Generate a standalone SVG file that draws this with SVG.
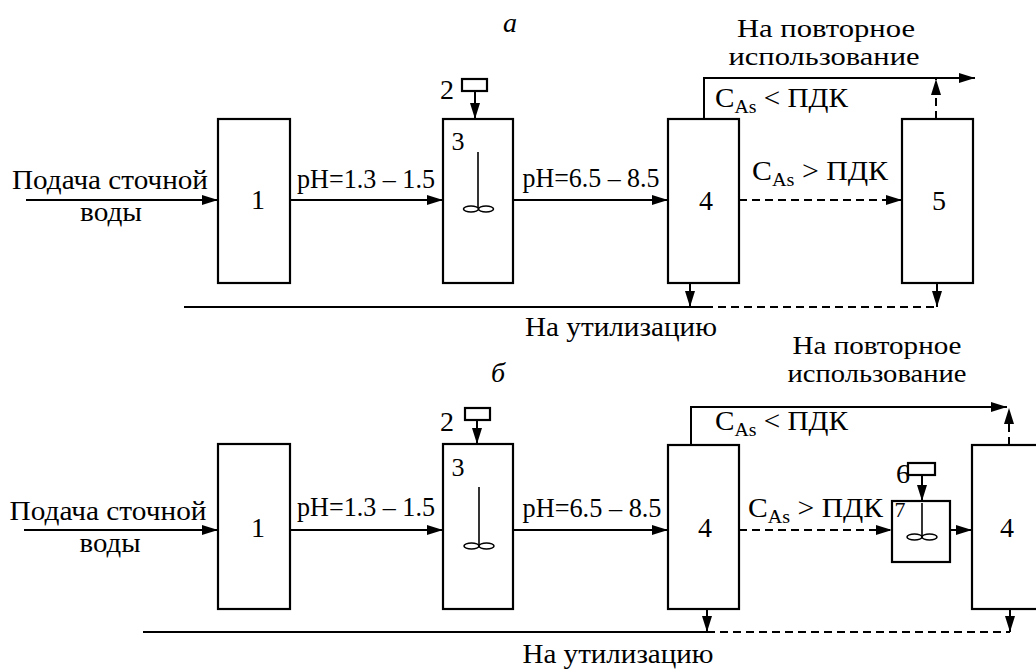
<svg xmlns="http://www.w3.org/2000/svg" width="1036" height="671" viewBox="0 0 1036 671" font-family="Liberation Serif, serif" font-size="28">
<style>
text{fill:#000}
.m{text-anchor:middle}
.i{font-style:italic}
.sub{font-size:19px}
.two{font-size:26px}
.box{fill:#fff;stroke:#000;stroke-width:2.2}
.ln{fill:none;stroke:#000;stroke-width:2}
.ds{fill:none;stroke:#000;stroke-width:2;stroke-dasharray:8 5}
.st{fill:none;stroke:#000;stroke-width:1.6}
</style>
<defs>
<marker id="ar" markerUnits="userSpaceOnUse" markerWidth="16" markerHeight="10" refX="16" refY="5" orient="auto">
<path d="M0,0 L16,5 L0,10 z" fill="#000"/>
</marker>
</defs>
<rect width="1036" height="671" fill="#fff"/>

<!-- panel a -->
<text class="m i" x="510" y="32">a</text>
<text class="m two" x="826" y="37" textLength="178" lengthAdjust="spacingAndGlyphs">На повторное</text>
<text class="m two" x="824" y="65" textLength="191" lengthAdjust="spacingAndGlyphs">использование</text>

<g id="a-box1"><rect class="box" x="218" y="119" width="72" height="164"/><text class="m" x="258" y="209">1</text></g>
<g id="a-doser2"><rect class="box" x="462" y="79" width="25" height="12" stroke-width="2"/><text class="m" x="447" y="99">2</text></g>
<g id="a-box3"><rect class="box" x="443" y="119" width="70" height="164"/><text class="m" x="458" y="150" font-size="26">3</text>
<line class="st" x1="478" y1="152" x2="478" y2="208"/><ellipse class="st" cx="471" cy="209" rx="7.5" ry="3"/><ellipse class="st" cx="486" cy="209" rx="7.5" ry="3"/></g>
<g id="a-box4"><rect class="box" x="668" y="119" width="71" height="164"/><text class="m" x="706" y="210">4</text></g>
<g id="a-box5"><rect class="box" x="902" y="119" width="71" height="164"/><text class="m" x="939" y="210">5</text></g>

<g id="a-labels">
<text class="m" x="110" y="189" textLength="196" lengthAdjust="spacingAndGlyphs">Подача сточной</text>
<text class="m" x="111" y="221" textLength="62" lengthAdjust="spacingAndGlyphs">воды</text>
<text class="m" x="366" y="188" textLength="138" lengthAdjust="spacingAndGlyphs">pH=1.3 – 1.5</text>
<text class="m" x="591" y="187" textLength="137" lengthAdjust="spacingAndGlyphs">pH=6.5 – 8.5</text>
<text x="752" y="180" textLength="136" lengthAdjust="spacingAndGlyphs">C<tspan class="sub" dy="6">As</tspan><tspan dy="-6"> &gt; ПДК</tspan></text>
<text x="715" y="107" textLength="133" lengthAdjust="spacingAndGlyphs">C<tspan class="sub" dy="6">As</tspan><tspan dy="-6"> &lt; ПДК</tspan></text>
<text class="m" x="621" y="336" textLength="192" lengthAdjust="spacingAndGlyphs">На утилизацию</text>
</g>

<g id="a-connectors">
<line class="ln" x1="26" y1="200" x2="218" y2="200" marker-end="url(#ar)"/>
<line class="ln" x1="290" y1="200" x2="443" y2="200" marker-end="url(#ar)"/>
<line class="ln" x1="513" y1="200" x2="668" y2="200" marker-end="url(#ar)"/>
<line class="ds" x1="739" y1="200" x2="902" y2="200" marker-end="url(#ar)"/>
<line class="ln" x1="475" y1="91" x2="475" y2="119" marker-end="url(#ar)"/>
<polyline class="ln" points="704,119 704,78 975,78" marker-end="url(#ar)"/>
<line class="ds" x1="936" y1="119" x2="936" y2="79" marker-end="url(#ar)"/>
<line class="ln" x1="184" y1="307" x2="705" y2="307"/>
<line class="ds" x1="705" y1="307" x2="937" y2="307"/>
<line class="ln" x1="690" y1="283" x2="690" y2="307" marker-end="url(#ar)"/>
<line class="ln" x1="937" y1="283" x2="937" y2="307" marker-end="url(#ar)"/>
</g>

<!-- panel b -->
<text class="m i" x="498" y="382">б</text>
<text class="m two" x="877" y="354" textLength="169" lengthAdjust="spacingAndGlyphs">На повторное</text>
<text class="m two" x="877" y="382" textLength="179" lengthAdjust="spacingAndGlyphs">использование</text>

<g id="b-box1"><rect class="box" x="218" y="444" width="72" height="165"/><text class="m" x="258" y="537">1</text></g>
<g id="b-doser2"><rect class="box" x="465" y="408" width="25" height="12" stroke-width="2"/><text class="m" x="447" y="431">2</text></g>
<g id="b-box3"><rect class="box" x="443" y="444" width="70" height="165"/><text class="m" x="458" y="476" font-size="26">3</text>
<line class="st" x1="479" y1="487" x2="479" y2="545"/><ellipse class="st" cx="471.5" cy="546" rx="7.5" ry="3"/><ellipse class="st" cx="486.5" cy="546" rx="7.5" ry="3"/></g>
<g id="b-box4"><rect class="box" x="668" y="445" width="71" height="164"/><text class="m" x="705" y="537">4</text></g>
<g id="b-doser6"><rect class="box" x="908" y="463" width="27" height="12" stroke-width="2"/><text class="m" x="903" y="483">6</text></g>
<g id="b-box7"><rect class="box" x="892" y="501" width="58" height="61" stroke-width="1.8"/><text class="m" x="900" y="517" font-size="22">7</text>
<line class="st" x1="922" y1="503" x2="922" y2="536"/><ellipse class="st" cx="914.5" cy="537" rx="7.5" ry="3"/><ellipse class="st" cx="929.5" cy="537" rx="7.5" ry="3"/></g>
<g id="b-box4b"><rect class="box" x="972" y="445" width="80" height="164"/><text class="m" x="1007" y="537">4</text></g>

<g id="b-labels">
<text class="m" x="108" y="520" textLength="197" lengthAdjust="spacingAndGlyphs">Подача сточной</text>
<text class="m" x="110" y="552" textLength="61" lengthAdjust="spacingAndGlyphs">воды</text>
<text class="m" x="366" y="516" textLength="138" lengthAdjust="spacingAndGlyphs">pH=1.3 – 1.5</text>
<text class="m" x="592" y="517" textLength="139" lengthAdjust="spacingAndGlyphs">pH=6.5 – 8.5</text>
<text x="748" y="517" textLength="135" lengthAdjust="spacingAndGlyphs">C<tspan class="sub" dy="6">As</tspan><tspan dy="-6"> &gt; ПДК</tspan></text>
<text x="715" y="430" textLength="133" lengthAdjust="spacingAndGlyphs">C<tspan class="sub" dy="6">As</tspan><tspan dy="-6"> &lt; ПДК</tspan></text>
<text class="m" x="618" y="663" textLength="191" lengthAdjust="spacingAndGlyphs">На утилизацию</text>
</g>

<g id="b-connectors">
<line class="ln" x1="24" y1="530" x2="218" y2="530" marker-end="url(#ar)"/>
<line class="ln" x1="290" y1="530" x2="443" y2="530" marker-end="url(#ar)"/>
<line class="ln" x1="513" y1="530" x2="668" y2="530" marker-end="url(#ar)"/>
<line class="ds" x1="739" y1="530" x2="892" y2="530" marker-end="url(#ar)"/>
<line class="ds" x1="950" y1="530" x2="972" y2="530" marker-end="url(#ar)"/>
<line class="ln" x1="477" y1="420" x2="477" y2="444" marker-end="url(#ar)"/>
<line class="ln" x1="922" y1="475" x2="922" y2="501" marker-end="url(#ar)"/>
<polyline class="ln" points="691,445 691,407 1007,407" marker-end="url(#ar)"/>
<line class="ds" x1="1009" y1="445" x2="1009" y2="408" marker-end="url(#ar)"/>
<line class="ln" x1="143" y1="632" x2="707" y2="632"/>
<line class="ds" x1="707" y1="632" x2="1010" y2="632"/>
<line class="ln" x1="707" y1="609" x2="707" y2="632" marker-end="url(#ar)"/>
<line class="ln" x1="1010" y1="609" x2="1010" y2="632" marker-end="url(#ar)"/>
</g>
</svg>
